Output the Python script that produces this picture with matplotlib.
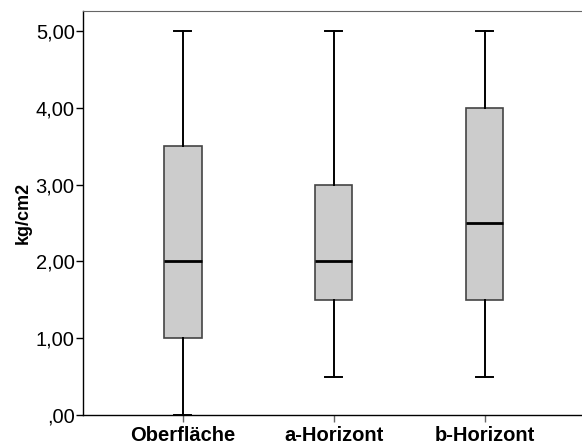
import matplotlib
matplotlib.use("Agg")
import matplotlib.pyplot as plt

plt.rcParams['font.family'] = ['Liberation Sans', 'DejaVu Sans']

# box plot values (kg/cm2)
groups = ["Oberfläche", "a-Horizont", "b-Horizont"]
whislo = [0.0, 0.5, 0.5]
q1 = [1.0, 1.5, 1.5]
med = [2.0, 2.0, 2.5]
q3 = [3.5, 3.0, 4.0]
whishi = [5.0, 5.0, 5.0]

y_ticks = [0, 1, 2, 3, 4, 5]
y_tick_labels = [",00", "1,00", "2,00", "3,00", "4,00", "5,00"]

stats = []
for i in range(len(groups)):
    stats.append({"label": groups[i], "whislo": whislo[i], "q1": q1[i],
                  "med": med[i], "q3": q3[i], "whishi": whishi[i], "fliers": []})

fig = plt.figure(figsize=(5.82, 4.48), dpi=100)
ax = fig.add_axes([83 / 582, 33 / 448, 502 / 582, 404 / 448])

ax.bxp(stats, positions=[1, 2, 3], widths=0.25, patch_artist=True,
       showfliers=False,
       boxprops=dict(facecolor="#cccccc", edgecolor="#444444", linewidth=1.2),
       medianprops=dict(color="black", linewidth=2),
       whiskerprops=dict(color="black", linewidth=1.4),
       capprops=dict(color="black", linewidth=1.4),
       capwidths=0.11)

ax.set_xlim(0.34, 3.665)
ax.set_ylim(0, 5.26)
ax.set_yticks(y_ticks)
ax.set_yticklabels(y_tick_labels, fontsize=14.5)
ax.set_xticks([1, 2, 3])
ax.set_xticklabels(groups, fontsize=14.5, fontweight="bold")
ax.set_ylabel("kg/cm2", fontsize=13, fontweight="bold", labelpad=3)

ax.spines["right"].set_visible(False)
for s in ["left", "bottom"]:
    ax.spines[s].set_color("black")
    ax.spines[s].set_linewidth(1.0)
ax.spines["top"].set_color("#666666")
ax.tick_params(axis="y", direction="out", length=5, width=1, pad=1)
ax.tick_params(axis="x", direction="out", length=5, width=1, color="#666666", pad=3)

fig.savefig("out.png", dpi=100)
